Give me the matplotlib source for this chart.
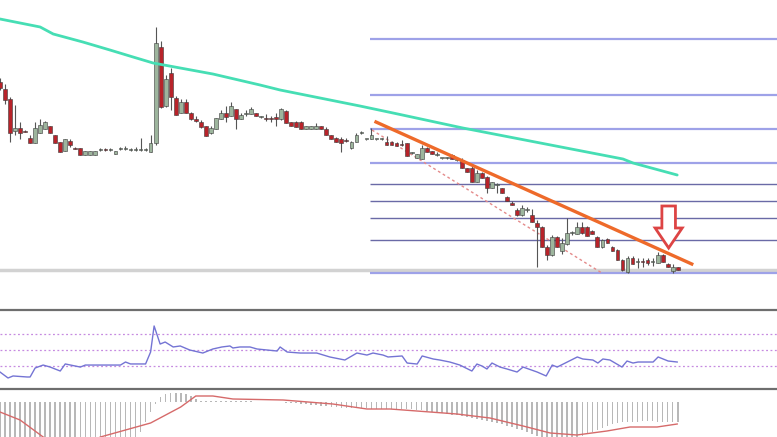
import matplotlib
matplotlib.use("Agg")
import matplotlib.pyplot as plt
from matplotlib.patches import FancyArrow

# candles (price units, arbitrary scale)
opens = [218, 211, 201, 169, 172, 169, 162, 157, 167, 171, 174, 165, 158, 149, 159, 152, 152, 145, 145, 145,
         150, 150.5, 150, 146, 151, 151, 150, 150, 150, 150, 148, 157, 253, 194, 227, 202, 187, 198, 187, 181,
         178, 174, 167, 171, 181, 187, 184, 191, 181, 186, 186, 187, 183, 182, 182, 183, 181, 189, 178, 178,
         178, 171, 171, 171, 174, 171, 165, 162, 161, 160, 152, 158, 167, 161, 161, 161, 161, 158, 158, 157,
         156, 157, 147, 142, 141, 152, 149, 145, 142, 142, 145, 140, 140, 132, 132, 118, 127, 123, 112, 115,
         112, 103, 97, 90, 85, 90, 85, 77, 73, 53, 45, 63, 49, 56, 67, 66, 73, 73, 69, 63,
         53, 61, 53, 50, 40, 28, 42, 38, 38.5, 40, 38, 37, 45, 36, 29, 33]
highs = [222, 216, 203, 195, 178, 170, 165, 178, 181, 179, 174, 165, 158, 161, 161, 153, 152, 149, 149, 149.5,
         152, 152, 152, 149, 153, 154, 152, 153, 162, 152, 165, 273, 259, 225, 232, 204, 201, 201, 188, 184,
         180, 174, 174, 182, 190, 194, 198, 191, 187, 190, 193, 187, 184, 186, 184, 187, 192, 190, 178, 179,
         179, 174, 174, 177, 174, 173, 165, 163, 163, 162, 159, 167, 169, 161.5, 172, 161.5, 162, 164, 159, 158,
         160, 157, 148, 146, 155, 153, 149, 148, 142.5, 143, 146, 143, 142, 132, 134, 130, 128, 124, 118, 117,
         112, 104, 99, 92, 95, 93, 91, 80, 74, 55, 65, 64, 62, 82, 69, 78, 78, 74, 70, 64,
         61, 62, 54, 51, 41, 44, 44, 42, 42, 42, 42, 48, 46, 37, 36, 33]
lows = [210, 196, 158, 165, 161, 168, 157, 157, 167, 171, 167, 157, 148, 149, 153, 151, 145, 145, 145, 145,
        149, 149, 149, 146, 150, 150, 149, 149, 149, 149, 148, 155, 192, 193, 190, 185, 187, 187, 180, 178,
        172, 164, 166, 171, 181, 178, 184, 171, 181, 184, 186, 184, 182, 179, 178, 174, 180, 177, 174, 173,
        171, 171, 171, 171, 171, 165, 161, 158, 148, 158, 151, 158, 166, 160.5, 161, 160.5, 160, 155, 155, 154,
        154, 144, 146, 142, 141, 148, 146, 144, 141.5, 141.5, 141, 139, 132, 128, 118, 118, 122, 107, 112, 107,
        107, 99, 95, 84, 84, 88, 78, 33, 53, 40, 44, 53, 46, 55, 65, 66, 66, 64, 66, 53,
        52, 57, 49, 40, 29, 27, 36, 32, 33, 35, 34, 37, 38, 33, 27, 30]
closes = [212, 200, 167, 172, 167, 168.5, 157, 172, 175, 178, 167, 157, 148, 161, 155, 151.5, 145, 149, 149, 149,
          150.5, 150, 150.5, 149, 151.5, 151.5, 150.5, 150.5, 151, 150.5, 157, 257, 193, 221, 203, 185, 198, 187, 181, 179,
          173, 164, 172, 182, 187, 183, 194, 181, 185, 187, 191, 184, 183.5, 181, 181.5, 181, 191, 177, 174, 173,
          171, 174, 174, 174, 171, 165, 161, 158, 157, 159.5, 158, 165, 167.5, 161, 165, 161, 161, 155, 155, 154,
          155.5, 144, 147.5, 146, 152, 148, 146, 145.5, 142, 142, 141, 140.5, 132, 128, 118, 127, 122, 112, 118, 115.5,
          107, 99, 95, 85, 92, 90.5, 78, 73, 53, 45, 63, 53, 57, 67, 67.5, 73, 67, 64, 66, 53,
          60, 57, 49, 40, 30, 42, 36, 38.5, 38, 37, 38.5, 45, 38, 33, 33, 30]

# moving average (bar index, price)
ma_idx = [0, 8, 10.6, 16.5, 21.9, 26.5, 30.5, 35.9, 42.4, 51.8, 55.8, 71.7, 78.3, 92.2, 124.1, 126.1, 134.9]
ma_val = [281, 273, 266, 258, 250, 243, 237, 232, 226, 215, 210, 194, 187, 172, 141, 137, 125]

# fibonacci levels and drawn lines
fib_levels = [260.7, 205, 171, 136.7, 116, 98.7, 81.7, 60, 26.7]
fib_light = [True, True, True, True, False, False, False, False, True]
fib_start = 73.7
support_level = 30
trend_idx = [74.9, 137.8]
trend_val = [178, 36]
chan_idx = [74.1, 119.9]
chan_val = [170, 27]

# RSI (bar index, value)
rsi_idx = [0, 1.6, 2.6, 5.4, 6, 7, 8.6, 10, 12, 13, 16, 17, 24, 25, 26, 29, 30, 30.7, 31.9, 32.9,
           34.5, 35.9, 37.8, 40.4, 42.4, 44.2, 45.8, 46.4, 47.8, 49.8, 51.2, 55.2, 55.8, 57.2, 59.8, 63.1,
           65.7, 68.7, 71.1, 73.1, 74.3, 76.3, 77.3, 80.1, 81.1, 83.1, 84.1, 86.3, 87.6, 89.6, 91.6, 94, 95,
           96, 97, 98, 99.6, 101, 103, 104.2, 107, 108.8, 110, 111, 113, 115, 116.1, 118.1, 119.1, 120.1,
           121.5, 123.9, 124.9, 126.1, 127.1, 130.1, 131.1, 133.1, 134.9]
rsi_val = [21.6, 13.9, 16.5, 15.2, 15.2, 26.8, 30.6, 28, 22.9, 32, 28, 30.6, 30.6, 34.5, 32, 32, 47.4, 81, 57.7, 60.3,
           53.9, 55.2, 50, 46.1, 51.3, 53.9, 55.2, 52.6, 53.9, 53.9, 51.3, 48.7, 53.9, 47.4, 46.1, 46.1,
           41, 37.1, 46.1, 43.5, 46.1, 43.5, 41, 42.3, 33.2, 31.9, 42.3, 38.4, 37.1, 34.5, 30.6, 22.9, 31.9,
           29.4, 25.5, 33.2, 28, 25.5, 21.6, 28, 21.6, 16.5, 30.6, 28, 34.5, 41, 38.4, 37.1, 33.2, 38.4,
           37.1, 28, 35.8, 33.2, 34.5, 34.5, 41, 35.8, 34.5]
rsi_levels = [70, 50, 30]

# MACD histogram (one per bar) and signal line
macd_hist = [-46, -47, -48, -48, -47, -46, -45, -45, -44, -44, -44, -45, -45, -44, -44, -43, -43, -43, -42, -42,
             -42, -41, -41, -40, -40, -40, -39, -38, -30, -20, -10, -2, 5, 8, 9, 9, 9, 8, 6, 3,
             1, 1, 1, 1, 1, 1, 1, 1, 1, 1, 1, 0.5, 0.5, 0.5, 0.5, 0.5, 0.5, -0.5, -0.5, -1,
             -2, -2, -3, -3, -4, -4, -5, -5, -6, -6, -6, -6, -6, -6, -7, -7, -7, -7, -7, -7,
             -7, -7, -7, -8, -8, -9, -10, -11, -11, -12, -13, -13, -14, -15, -16, -17, -18, -19, -20, -21,
             -22, -24, -25, -27, -28, -30, -32, -34, -36, -37, -38, -38, -38, -37, -36, -35, -34, -32, -30, -28,
             -26, -24, -22, -21, -20, -20, -20, -20, -19, -19, -19, -20, -20, -20, -20, -20]
sig_idx = [0, 4, 8.6, 12, 15, 20, 30, 36, 39, 42.4, 46.4, 56.4, 66.3, 73.1, 77.7, 91, 97.6, 104.2,
           109.6, 114.9, 120.9, 125.5, 130.9, 134.9]
sig_val = [-10, -18, -35, -46, -48, -35, -21, -5, 6, 6, 3, 2, -2, -7, -7, -12, -16, -24,
           -31, -33, -29, -25, -25, -22]

# arrow marker
arrow_idx = 133.2
arrow_top = 94
arrow_len = 42

W, H = 777, 437
fig = plt.figure(figsize=(W / 100, H / 100), dpi=100)
fig.patch.set_facecolor("white")

xmax = W / 5.02
ax = fig.add_axes([0, 1 - 305 / H, 1, 305 / H])
ax.set_xlim(0, xmax)
ax.set_ylim(-5, 300)
ax.axis("off")

ax.axhline(support_level, color="#d2d2d2", lw=2.5, zorder=1)
for lvl, light in zip(fib_levels, fib_light):
    ax.hlines(lvl, fib_start, xmax, color="#9ea2e8" if light else "#6a6aa6",
              lw=1.6 if light else 1.0, zorder=1)

bull, bear = "#9db59d", "#b8232a"
for i, (o, h, l, c) in enumerate(zip(opens, highs, lows, closes)):
    ax.vlines(i, l, h, color="#555555", lw=0.8, zorder=3)
    lo, hi = min(o, c), max(o, c)
    ax.bar(i, max(hi - lo, 0.8), bottom=lo, width=0.75,
           color=bull if c >= o else bear, edgecolor="#3a3a3a", linewidth=0.4, zorder=4)

ax.plot(ma_idx, ma_val, color="#46deb4", lw=2, zorder=5, solid_capstyle="round")
ax.plot(trend_idx, trend_val, color="#ee6a2a", lw=2.4, zorder=6)
ax.plot(chan_idx, chan_val, color="#e48a8a", lw=1, ls=(0, (2, 2)), zorder=2)
ax.add_patch(FancyArrow(arrow_idx, arrow_top, 0, -arrow_len, width=2.7, head_width=5.4,
                        head_length=20, length_includes_head=True,
                        fc="white", ec="#dd4444", lw=2, zorder=7))

# RSI panel
rx = fig.add_axes([0, 1 - 389 / H, 1, 79 / H])
rx.set_xlim(0, xmax)
rx.set_ylim(-0.3, 101.6)
rx.set_xticks([])
rx.set_yticks([])
for s in ["left", "right"]:
    rx.spines[s].set_visible(False)
for s in ["top", "bottom"]:
    rx.spines[s].set_color("#6e6e6e")
    rx.spines[s].set_linewidth(1.6)
for lvl in rsi_levels:
    rx.axhline(lvl, color="#c68ae0", lw=0.9, ls=(0, (1.5, 2)))
rx.plot(rsi_idx, rsi_val, color="#7474d4", lw=1)

# MACD panel
mx = fig.add_axes([0, 0, 1, 46 / H])
mx.set_xlim(0, xmax)
mx.set_ylim(-35, 11)
mx.axis("off")
mx.bar(range(len(macd_hist)), macd_hist, width=0.32, color="#b8b8b8")
mx.plot(sig_idx, sig_val, color="#d66a6a", lw=1)

fig.savefig("out.png", dpi=100, facecolor="white")
